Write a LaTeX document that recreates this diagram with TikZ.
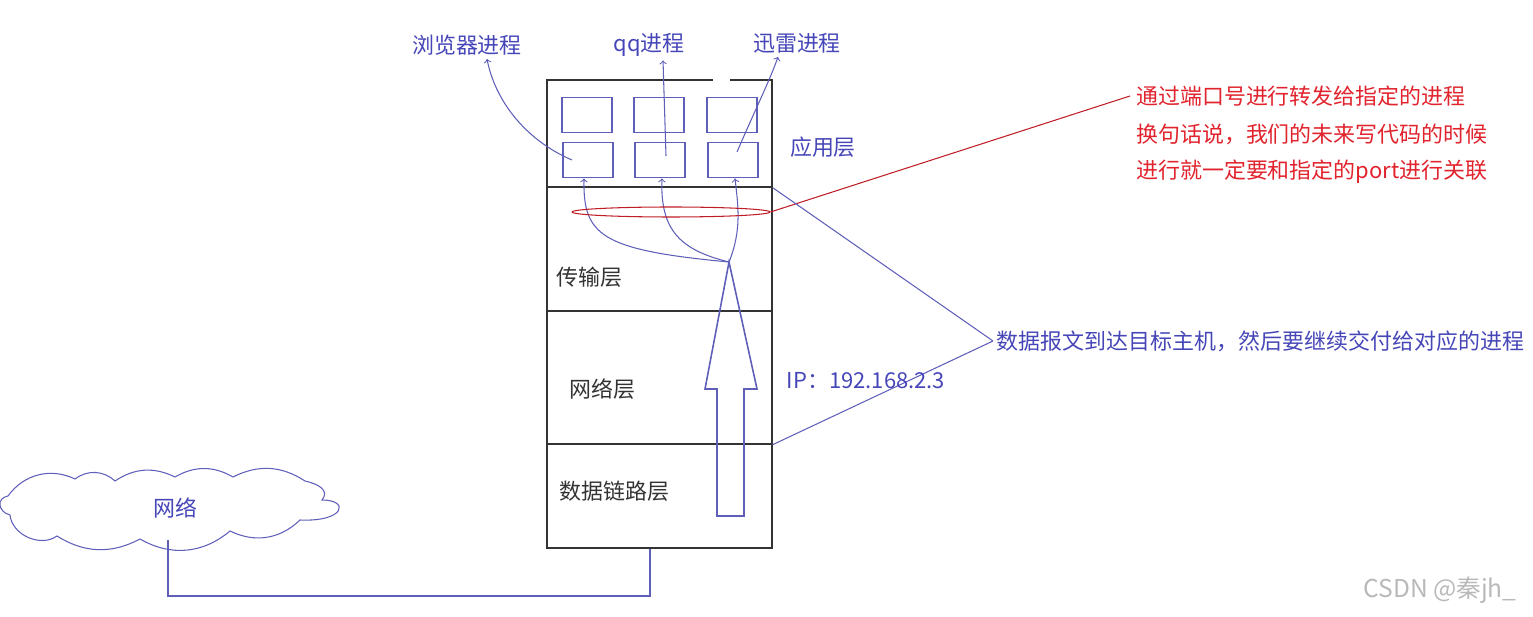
\documentclass[tikz,border=0pt]{standalone}
\usepackage{fontspec}
\newfontfamily\cjk{Noto Sans CJK SC}
\usepackage{tikz}
\usetikzlibrary{calc,positioning,shapes.geometric}
\definecolor{procblue}{RGB}{70,70,185}
\definecolor{wireblue}{RGB}{95,95,185}
\definecolor{notered}{RGB}{225,35,45}

\begin{document}
\begin{tikzpicture}[
    x=0.02cm, y=-0.02cm, % 按像素定位
    font=\cjk\fontsize{12.5}{15}\selectfont,
    layer/.style={draw=black!80, line width=0.8pt, minimum width=4.5cm, inner sep=0pt},
    pbox/.style={draw=wireblue, line width=0.8pt, minimum width=1cm, minimum height=0.71cm},
    wire/.style={draw=wireblue, line width=0.6pt},
    parrow/.style={wire, ->},
    lab/.style={text=procblue, inner sep=2pt},
  ]
  \useasboundingbox (0,0) rectangle (1533,617);
  % 协议栈
  \node[layer, minimum height=2.14cm] (app) at (659.5,133.5) {};
  \node[layer, minimum height=2.48cm] (trans) at (659.5,249) {};
  \node[layer, minimum height=2.66cm] (netw) at (659.5,377.5) {};
  \node[layer, minimum height=2.08cm] (link) at (659.5,496) {};
  \draw[white, line width=1.5pt] (713,80) -- (730,80); % 顶边的缺口
  \node[anchor=west, text=black!80] (ltrans) at (550,277) {传输层};
  \node[anchor=west, text=black!80] (lnetw) at (563,389) {网络层};
  \node[anchor=west, text=black!80] (llink) at (553,491) {数据链路层};
  \node[lab] (lapp) at (823,147) {应用层};

  % 应用层里的进程
  \node[pbox] (b1) at (587,115) {};
  \node[pbox] (b2) at (659,115) {};
  \node[pbox] (b3) at (732,115) {};
  \node[pbox] (b4) at (588,160) {};
  \node[pbox] (b5) at (660,160) {};
  \node[pbox] (b6) at (733,160) {};
  \node[lab] (pbrowser) at (467,45) {浏览器进程};
  \node[lab] (pqq) at (649,45) {qq进程};
  \node[lab] (pxunlei) at (797,43) {迅雷进程};
  \draw[parrow] ($(b4.center)+(-16,0)$) .. controls (525,140) and (495,100) .. ($(pbrowser.south)+(20,0)$);
  \draw[parrow] ($(b5.center)+(6,-4)$) -- ($(pqq.south)+(14,0)$);
  \draw[parrow] ($(b6.center)+(4,-8)$) .. controls (755,110) and (770,80) .. ($(pxunlei.south)+(-19,0)$);

  % 向上交付
  \coordinate (tip) at (729,262);
  \draw[wire, line width=0.9pt] (717,516) -- (717,389) -- (705,389) -- (tip) -- (757,389) -- (744,389) -- (744,516) -- cycle;
  \draw[parrow] (tip) .. controls (600,250) and (583,235) .. ($(b4.south)+(-4,0)$);
  \draw[parrow] (tip) .. controls (680,250) and (660,230) .. ($(b5.south)+(2,0)$);
  \draw[parrow] (tip) .. controls (742,230) and (738,205) .. ($(b6.south)+(2,0)$);

  % 端口
  \node[ellipse, draw=notered!85!black, line width=0.6pt, minimum width=3.96cm, minimum height=0.2cm, inner sep=0pt] (port) at (671,212) {};
  \node[text=notered, anchor=west] (note1) at (1130,96) {通过端口号进行转发给指定的进程};
  \node[text=notered, anchor=west] (note2) at ($(note1.west)+(0,38)$) {换句话说，我们的未来写代码的时候};
  \node[text=notered, anchor=west] (note3) at ($(note2.west)+(0,38)$) {进行就一定要和指定的port进行关联};
  \draw[notered!85!black, line width=0.6pt] (port.east) -- (note1.west);

  \node[lab, anchor=west] (arrive) at (993,341) {数据报文到达目标主机，然后要继续交付给对应的进程};
  \draw[wire] (arrive.west) -- (app.south east);
  \draw[wire] (arrive.west) -- (netw.south east);
  \node[lab, anchor=west] (ip) at (783,381) {IP：192.168.2.3};

  % 网络（云）
  \draw[wire] (8,496) to[bend left=40] (75,479) to[bend left=40] (115,481)
    to[bend left=30] (175,477) to[bend left=30] (233,477) to[bend left=30] (305,481)
    .. controls (318,484) and (330,490) .. (322,500)
    .. controls (350,500) and (345,522) .. (300,520)
    to[bend left=35] (230,531) to[bend left=35] (140,539) to[bend left=30] (57,536)
    to[bend left=60] (10,515) .. controls (-2,512) and (-4,498) .. cycle;
  \node[text=procblue] (net) at (175,508) {网络};
  \coordinate (netbot) at (168,540);
  \coordinate (joint) at (650,596);
  \draw[wire] (netbot) |- (joint) -- (joint |- link.south);

  \node[text=gray!55, font=\cjk\fontsize{14}{16}\selectfont] (mark) at (1440,590) {CSDN @秦jh\_};
\end{tikzpicture}
\end{document}
